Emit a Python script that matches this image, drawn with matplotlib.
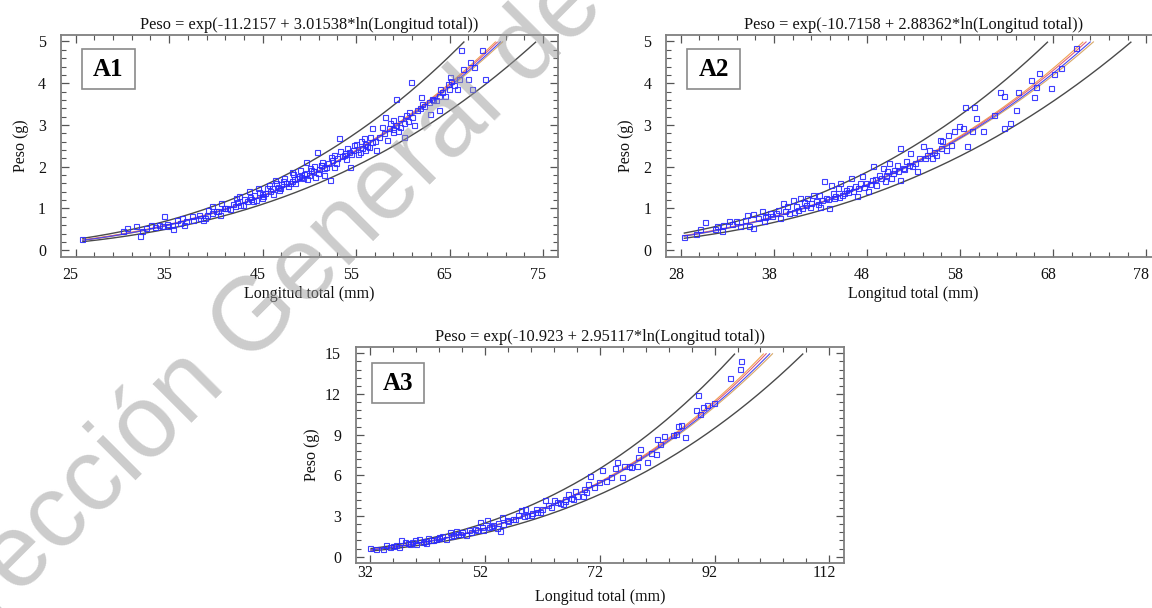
import numpy as np
import matplotlib
matplotlib.use('Agg')
import matplotlib.pyplot as plt
from matplotlib.patches import Rectangle
from matplotlib.transforms import ScaledTranslation

# ---------------- data ----------------
a1_x = [25.7, 30.1, 30.5, 31.5, 31.9, 32.1, 32.5, 33.1, 33.9, 34.5, 34.9, 35.4, 35.8, 36.4, 36.6,
        37.4, 38.2, 38.8, 39.2, 39.6, 40.2, 40.6, 41.2, 42.2, 42.5, 42.9, 43.5, 44.1, 44.5, 44.9,
        45.7, 46.3, 46.7, 47.3, 48.1, 48.5, 49.1, 49.6, 50.2, 50.8, 51.2, 51.6, 52.2, 52.6, 53.2,
        53.8, 54.4, 54.8, 55.4, 55.8, 56.4, 56.7, 57.1, 58.1, 58.5, 58.9, 59.3, 59.7, 60.1, 60.7,
        60.9, 61.5, 61.9, 62.9, 63.1, 63.9, 64.0, 64.8, 65.0, 65.8, 66.2, 66.4, 67.0, 67.2, 67.4,
        67.6, 68.5, 68.8,
        33.5, 34.2, 34.8, 35.3, 36.2, 36.8, 37.5, 38.3, 38.6, 39.0, 39.6, 40.0, 40.4, 40.9, 41.5,
        42.0, 42.3, 42.6, 43.3, 43.8, 44.3, 44.9, 45.3, 45.8, 46.1, 46.6, 47.0, 47.5, 47.7, 48.1,
        48.4, 48.9, 49.3, 49.6, 50.0, 50.4, 50.6, 51.0, 51.2, 51.6, 52.0, 52.4, 52.6, 53.0, 53.5,
        53.9, 54.2, 54.7, 55.2, 55.6, 55.9, 56.2, 56.7, 57.5, 58.0, 58.3, 58.9, 59.3, 59.7, 60.1,
        60.5, 61.0, 61.8, 62.3, 62.8, 63.2, 63.9, 64.2, 64.9, 65.2, 66.0,
        41.0, 41.8, 43.0, 43.6, 44.0, 44.6, 45.0, 45.5, 46.0, 46.4, 46.9, 47.2, 47.9, 48.3, 48.7,
        49.0, 49.4, 49.8, 50.1, 50.5, 50.9, 51.4, 51.8, 52.3, 52.8, 53.3, 53.7, 54.0, 54.5, 55.0,
        55.5, 56.0, 56.5, 57.0, 57.8, 58.6, 59.0, 59.5, 60.3, 61.2, 62.0, 63.5, 64.5, 65.5]
a1_y = [0.28, 0.45, 0.53, 0.57, 0.33, 0.45, 0.53, 0.61, 0.61, 0.81, 0.57, 0.52, 0.73, 0.77, 0.61,
        0.81, 0.85, 0.77, 0.97, 1.05, 0.93, 1.13, 1.01, 1.25, 1.29, 1.09, 1.41, 1.33, 1.49, 1.25,
        1.57, 1.69, 1.45, 1.73, 1.88, 1.61, 1.76, 2.12, 1.92, 2.36, 2.04, 1.80, 1.69, 2.28, 2.68,
        2.32, 2.00, 2.52, 2.36, 2.68, 2.48, 2.92, 2.40, 3.20, 2.92, 2.84, 3.63, 3.16, 2.72, 3.31,
        4.03, 3.35, 3.67, 3.27, 3.63, 3.35, 3.87, 3.99, 4.15, 3.87, 4.79, 4.35, 4.11, 4.51, 3.87,
        4.39, 4.79, 4.11,
        0.55, 0.58, 0.62, 0.60, 0.66, 0.70, 0.72, 0.78, 0.72, 0.85, 0.88, 0.95, 0.85, 1.00, 0.98,
        1.05, 1.15, 1.08, 1.18, 1.22, 1.20, 1.35, 1.38, 1.42, 1.35, 1.52, 1.58, 1.60, 1.55, 1.65,
        1.70, 1.78, 1.72, 1.85, 1.80, 1.90, 1.75, 1.95, 2.05, 1.98, 2.10, 2.15, 2.00, 2.20, 2.25,
        2.18, 2.35, 2.40, 2.30, 2.45, 2.55, 2.50, 2.60, 2.70, 2.80, 2.65, 2.90, 3.00, 2.95, 3.05,
        3.10, 3.20, 3.40, 3.45, 3.55, 3.60, 3.70, 3.80, 3.85, 4.05, 4.10,
        1.02, 1.10, 1.22, 1.28, 1.18, 1.40, 1.30, 1.48, 1.50, 1.60, 1.50, 1.66, 1.60, 1.82, 1.74,
        1.92, 1.82, 1.70, 1.98, 2.02, 1.86, 2.12, 2.00, 2.24, 2.10, 2.38, 2.28, 2.45, 2.30, 2.55,
        2.62, 2.40, 2.72, 2.62, 2.95, 3.05, 3.12, 2.85, 3.25, 3.00, 3.50, 3.60, 3.70, 3.95]

a2_x = [28.3, 29.6, 30.1, 30.6, 31.7, 31.9, 32.4, 32.5, 33.2, 33.5, 33.9, 34.3, 34.9, 35.1, 35.3,
        35.7, 35.8, 36.3, 36.7, 36.9, 37.3, 37.6, 38.4, 38.6, 39.0, 39.4, 39.6, 40.0, 40.4, 40.6,
        40.8, 41.2, 41.6, 41.9, 42.2, 42.5, 42.8, 43.0, 43.4, 43.6, 43.9, 44.1, 44.3, 44.5, 44.9,
        45.1, 45.3, 45.7, 46.1, 46.3, 46.7, 46.9, 47.3, 47.5, 47.9, 48.1, 48.5, 48.7, 49.0, 49.3,
        49.7, 49.9, 50.2, 50.4, 50.6, 50.9, 51.2, 51.5, 51.6, 51.9, 52.2, 52.6, 52.8, 53.4, 53.6,
        54.0, 54.4, 54.7, 55.0, 55.4, 55.8, 56.1, 56.5, 56.7, 57.0, 57.3, 57.9, 58.3, 58.5, 58.8,
        59.3, 59.5, 59.7, 60.5, 61.7, 62.3, 62.7, 62.7, 63.4, 64.0, 64.2, 65.6, 66.0, 66.2, 66.5,
        67.8, 68.1, 68.8, 70.5,
        37.0, 37.8, 38.2, 39.2, 40.2, 41.0, 41.4, 42.0, 42.7, 43.2, 43.8, 44.6, 45.0, 45.5, 46.0,
        46.5, 47.0, 47.7, 48.3, 48.9, 49.5, 50.0, 50.8, 51.3, 52.0, 52.5, 53.2, 54.2, 55.2, 56.0]
a2_y = [0.31, 0.39, 0.51, 0.67, 0.51, 0.57, 0.47, 0.61, 0.71, 0.64, 0.71, 0.57, 0.73, 0.85, 0.57,
        0.53, 0.87, 0.77, 0.93, 0.69, 0.81, 0.89, 0.97, 0.77, 1.13, 1.05, 0.89, 1.21, 1.05, 0.97,
        1.25, 1.16, 1.25, 1.03, 1.33, 1.17, 1.32, 1.03, 1.65, 1.25, 1.01, 1.57, 1.37, 1.25, 1.49,
        1.61, 1.33, 1.45, 1.49, 1.73, 1.53, 1.29, 1.61, 1.77, 1.61, 1.41, 1.69, 2.01, 1.57, 1.81,
        1.97, 1.65, 1.89, 2.09, 1.73, 1.93, 2.05, 1.69, 2.45, 1.97, 2.13, 2.33, 2.01, 1.89, 2.21,
        2.49, 2.29, 2.41, 2.21, 2.29, 2.65, 2.61, 2.41, 2.77, 2.53, 2.85, 2.97, 2.93, 3.42, 2.49,
        2.85, 3.42, 3.17, 2.86, 3.25, 3.78, 3.70, 2.93, 3.05, 3.37, 3.80, 4.08, 3.68, 3.92, 4.24,
        3.88, 4.22, 4.36, 4.84,
        0.80, 0.82, 0.88, 0.95, 0.92, 1.00, 1.08, 1.12, 1.10, 1.20, 1.22, 1.30, 1.28, 1.38, 1.40,
        1.42, 1.50, 1.52, 1.58, 1.70, 1.72, 1.80, 1.85, 1.90, 1.95, 2.05, 2.10, 2.20, 2.35, 2.45]

a3_x = [32.0, 32.9, 34.2, 34.8, 35.4, 37.0, 37.3, 38.0, 38.9, 39.8, 40.5, 41.1, 41.7, 42.0, 43.0,
        43.9, 44.5, 45.2, 45.8, 46.4, 47.0, 47.7, 48.6, 49.2, 50.2, 51.1, 51.7, 52.4, 52.7, 53.3,
        54.0, 54.6, 54.9, 55.2, 55.8, 56.8, 57.7, 58.3, 59.0, 59.3, 60.2, 60.8, 61.5, 62.4, 63.0,
        64.0, 64.6, 65.5, 65.9, 66.5, 67.4, 67.7, 69.0, 69.3, 69.9, 70.2, 70.9, 71.8, 72.3, 73.1,
        74.0, 74.6, 75.0, 75.9, 76.2, 77.1, 77.5, 78.4, 78.7, 79.0, 80.3, 80.9, 81.8, 82.0, 82.5,
        83.1, 84.7, 85.3, 85.6, 86.2, 86.9, 88.7, 89.1, 89.4, 90.0, 90.6, 91.9, 94.7, 96.5, 96.6,
        36.0, 36.5, 38.5, 39.2, 40.0, 41.5, 42.5, 43.5, 44.0, 46.0, 47.2, 48.0, 49.5, 50.5, 51.5,
        53.0, 54.2, 56.0, 57.2, 58.8, 60.0, 61.0, 62.0, 63.5, 65.0, 66.0, 67.0, 68.0, 69.5]
a3_y = [0.61, 0.56, 0.56, 0.85, 0.73, 0.73, 1.22, 1.05, 0.90, 1.22, 1.34, 1.10, 0.98, 1.39, 1.22,
        1.46, 1.54, 1.34, 1.83, 1.59, 1.88, 1.71, 1.63, 1.95, 2.07, 2.56, 2.00, 2.68, 2.20, 2.32,
        2.12, 1.88, 2.93, 2.44, 2.68, 2.80, 3.05, 3.41, 3.54, 3.05, 3.22, 3.54, 3.29, 4.15, 3.78,
        4.15, 4.07, 3.90, 4.27, 4.63, 4.27, 4.88, 4.51, 5.00, 5.37, 5.93, 5.12, 5.49, 6.41, 5.61,
        5.85, 6.51, 6.95, 5.85, 6.71, 6.71, 6.59, 6.71, 7.32, 7.93, 7.00, 7.68, 7.56, 8.71, 8.29,
        8.90, 8.95, 9.02, 9.63, 9.68, 8.85, 10.80, 11.95, 10.54, 11.02, 11.22, 11.34, 13.17, 13.83, 14.46,
        0.78, 0.85, 1.00, 1.05, 0.95, 1.15, 1.20, 1.30, 1.35, 1.55, 1.65, 1.80, 1.85, 1.95, 2.20,
        2.30, 2.45, 2.60, 2.75, 3.00, 3.10, 3.30, 3.50, 3.70, 3.95, 4.10, 4.30, 4.45, 4.75]

# fitted models (coefficients from the titles)
a1_coef = (-11.2157, 3.01538)
a2_coef = (-10.7158, 2.88362)
a3_coef = (-10.923, 2.95117)

a1_bands = (0.165, 0.005, 0.045)
a2_bands = (0.18, 0.006, 0.05)
a3_bands = (0.173, 0.006, 0.04)

a1_xticks = [25, 35, 45, 55, 65, 75]
a2_xticks = [28, 38, 48, 58, 68, 78]
a3_xticks = [32, 52, 72, 92, 112]
a1_yticks = [0, 1, 2, 3, 4, 5]
a2_yticks = [0, 1, 2, 3, 4, 5]
a3_yticks = [0, 3, 6, 9, 12, 15]

titles = ["Peso = exp(-11.2157 + 3.01538*ln(Longitud total))",
          "Peso = exp(-10.7158 + 2.88362*ln(Longitud total))",
          "Peso = exp(-10.923 + 2.95117*ln(Longitud total))"]
labels = ["A1", "A2", "A3"]
xlabel = "Longitud total (mm)"
ylabel = "Peso (g)"

# ---------------- styling ----------------
plt.rcParams['font.family'] = ['Liberation Serif', 'DejaVu Serif']
FRAME = '#7f7f7f'
PT_COL = '#2a2aff'
PRED_COL = '#4a4a4a'
FIT_COL = '#e0607a'
FIT2_COL = '#4848f0'
CU_COL = '#f0a050'
CL_COL = '#d8a868'

fig = plt.figure(figsize=(11.52, 6.08), dpi=100)

W, H = 1152.0, 608.0
def px_axes(l, r, t, b):
    return fig.add_axes([l / W, 1 - b / H, (r - l) / W, (b - t) / H])

ax1 = px_axes(60.7, 558, 35, 256.7)
ax2 = px_axes(666, 1161, 35, 256.7)
ax3 = px_axes(355.7, 844, 347, 563)


def panel(ax, x, y, coef, bands, xticks, yticks, title, lab, xpad, xlpad, ylpad, box):
    a, b = coef
    pd_, c0, c1 = bands
    x = np.asarray(x); y = np.asarray(y)
    xr = xticks[-1] - xticks[0]
    yr = yticks[-1] - yticks[0]
    ax.set_xlim(xticks[0] - 0.032 * xr, xticks[-1] + 0.032 * xr)
    ax.set_ylim(yticks[0] - 0.031 * yr, yticks[-1] + 0.031 * yr)
    ymax = yticks[-1]

    xs = np.linspace(x.min(), xticks[-1] + 0.032 * xr, 1500)
    lx = np.log(xs)
    m = np.log(x).mean()
    core = a + b * lx
    cw = np.sqrt(c0 ** 2 + (c1 * (lx - m)) ** 2)

    def draw(v, col, lw, z):
        yy = np.exp(v)
        yy = np.where(yy <= ymax, yy, np.nan)
        ax.plot(xs, yy, color=col, lw=lw, zorder=z, solid_capstyle='butt')

    draw(core + pd_, PRED_COL, 1.0, 2)
    draw(core - pd_, PRED_COL, 1.0, 2)
    draw(core + cw, CU_COL, 0.8, 3)
    draw(core - cw, CL_COL, 0.8, 3)
    draw(core + 0.4 * cw, FIT_COL, 0.8, 4)
    draw(core - 0.4 * cw, FIT2_COL, 0.8, 4)
    ax.plot(x, y, 's', mfc='none', mec=PT_COL, ms=3.6, mew=0.8, zorder=5, alpha=0.9)

    ax.set_xticks(xticks)
    ax.set_yticks(yticks)
    ax.set_xticks(np.arange(xticks[0], xticks[-1] + 1e-9, (xticks[1] - xticks[0]) / 5.0), minor=True)
    ax.set_yticks(np.arange(yticks[0], yticks[-1] + 1e-9, (yticks[1] - yticks[0]) / 5.0), minor=True)
    ax.tick_params(which='both', direction='in', top=True, right=True, color='#555555',
                   labelsize=11.5, labelcolor='#111111')
    ax.tick_params(which='major', length=6, width=0.9)
    ax.tick_params(which='minor', length=3.5, width=0.8)
    ax.tick_params(axis='x', which='major', pad=xpad)
    ax.tick_params(axis='y', which='major', pad=10.5)
    for s in ax.spines.values():
        s.set_color(FRAME)
        s.set_linewidth(1.3)
    ax.set_title(title, fontsize=11.8, pad=4, color='#111111')
    ax.set_xlabel(xlabel, fontsize=11.5, labelpad=xlpad, color='#111111')
    ax.set_ylabel(ylabel, fontsize=11.5, labelpad=ylpad, color='#111111')

    off = ScaledTranslation(-5 / 100.0, 0, fig.dpi_scale_trans)
    for t in ax.get_xticklabels():
        t.set_transform(t.get_transform() + off)

    # label box
    bw, bh = box
    ax.add_patch(Rectangle((bw[0], bh[0]), bw[1] - bw[0], bh[1] - bh[0], transform=ax.transAxes,
                           fill=True, facecolor='white', edgecolor='#8a8a8a', lw=1.2, zorder=6))
    ax.text((bw[0] + bw[1]) / 2, (bh[0] + bh[1]) / 2, lab, transform=ax.transAxes,
            ha='center', va='center', fontsize=18, fontweight='bold', zorder=7, color='black')


panel(ax1, a1_x, a1_y, a1_coef, a1_bands, a1_xticks, a1_yticks, titles[0], labels[0], 7.5, 2, 6.5,
      ((0.043, 0.149), (0.756, 0.937)))
panel(ax2, a2_x, a2_y, a2_coef, a2_bands, a2_xticks, a2_yticks, titles[1], labels[1], 7.5, 2, 6.5,
      ((0.043, 0.149), (0.756, 0.937)))
panel(ax3, a3_x, a3_y, a3_coef, a3_bands, a3_xticks, a3_yticks, titles[2], labels[2], 1.5, 6, 4,
      ((0.033, 0.140), (0.74, 0.924)))

# watermark
fig.text(-0.065, -0.135, "Dirección General de Bibliotecas UAQ", rotation=45,
         rotation_mode='anchor', ha='left', va='baseline', fontsize=74,
         family='Liberation Sans', color='#9a9a9a', alpha=0.5, zorder=20)

fig.savefig('out.png', dpi=100)
